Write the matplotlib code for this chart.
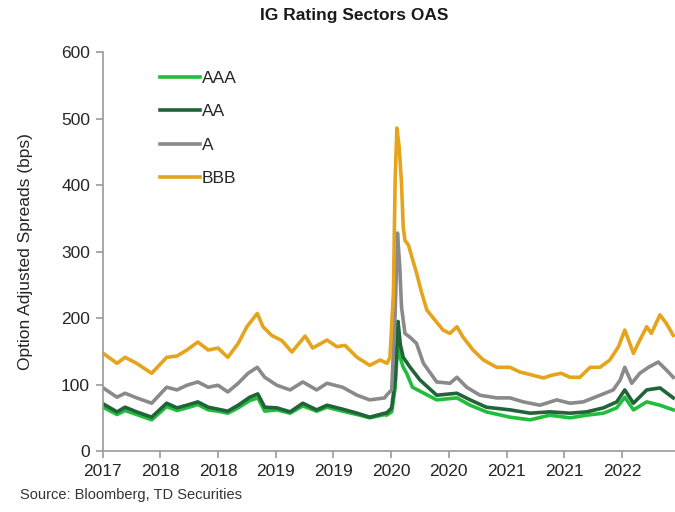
import matplotlib
matplotlib.use("Agg")
import matplotlib.pyplot as plt

plt.rcParams['font.family'] = ['Liberation Sans', 'DejaVu Sans']

# x in half-year tick units (tick 0 = first "2017" label)
tickLabels = ["2017", "2018", "2018", "2019", "2019", "2020", "2020", "2021", "2021", "2022"]

bbbX = [0.01, 0.25, 0.39, 0.59, 0.85, 1.11, 1.29, 1.46, 1.65, 1.83, 2.00, 2.17, 2.35, 2.50, 2.68,
        2.78, 2.93, 3.11, 3.28, 3.51, 3.64, 3.89, 4.06, 4.20, 4.41, 4.63, 4.81, 4.93, 4.98, 5.04,
        5.07, 5.10, 5.14, 5.18, 5.21, 5.24, 5.30, 5.36, 5.44, 5.53, 5.62, 5.76, 5.90, 6.02, 6.14,
        6.25, 6.42, 6.60, 6.83, 7.06, 7.23, 7.46, 7.64, 7.78, 7.95, 8.10, 8.27, 8.45, 8.62, 8.79,
        8.94, 9.05, 9.20, 9.31, 9.43, 9.51, 9.66, 9.77, 9.89]
bbbY = [147, 132, 141, 132, 117, 141, 143, 152, 164, 152, 155, 141, 162, 187, 207,
        187, 174, 166, 149, 173, 155, 167, 157, 159, 141, 129, 137, 132, 141, 238,
        408, 486, 457, 403, 337, 317, 310, 292, 268, 238, 212, 197, 182, 177, 187,
        171, 152, 137, 126, 126, 119, 114, 110, 114, 117, 111, 111, 126, 126, 137,
        157, 182, 147, 167, 187, 177, 205, 192, 174]

aX = [0.01, 0.25, 0.39, 0.59, 0.85, 1.11, 1.29, 1.46, 1.65, 1.83, 2.00, 2.17, 2.35, 2.52, 2.68,
      2.81, 3.02, 3.25, 3.47, 3.71, 3.89, 4.16, 4.41, 4.63, 4.89, 4.92, 5.01, 5.07, 5.11, 5.15,
      5.18, 5.24, 5.33, 5.44, 5.56, 5.79, 6.02, 6.14, 6.31, 6.54, 6.83, 7.06, 7.29, 7.58, 7.87,
      8.10, 8.33, 8.62, 8.85, 8.97, 9.05, 9.17, 9.31, 9.46, 9.63, 9.77, 9.89]
aY = [95, 81, 87, 80, 72, 96, 92, 99, 104, 96, 99, 89, 102, 117, 126,
      111, 99, 92, 104, 92, 102, 96, 84, 77, 80, 84, 92, 207, 328, 277,
      217, 177, 171, 162, 132, 104, 102, 111, 96, 84, 80, 80, 74, 69, 77,
      72, 74, 84, 92, 107, 126, 102, 117, 126, 134, 122, 111]

aaX = [0.01, 0.25, 0.39, 0.59, 0.85, 1.11, 1.29, 1.46, 1.65, 1.83, 2.00, 2.17, 2.35, 2.55, 2.69,
       2.81, 3.02, 3.25, 3.47, 3.71, 3.89, 4.16, 4.41, 4.63, 4.89, 4.92, 5.01, 5.07, 5.12, 5.16,
       5.21, 5.33, 5.50, 5.79, 6.14, 6.37, 6.65, 7.06, 7.41, 7.75, 8.10, 8.39, 8.68, 8.91, 9.05,
       9.20, 9.43, 9.66, 9.89]
aaY = [71, 59, 66, 59, 51, 72, 65, 69, 74, 66, 63, 60, 69, 81, 86,
       66, 65, 59, 72, 62, 69, 63, 57, 51, 57, 57, 65, 107, 195, 160,
       141, 126, 107, 84, 87, 77, 66, 62, 57, 59, 57, 59, 65, 74, 92,
       72, 92, 95, 80]

aaaX = [0.01, 0.25, 0.39, 0.59, 0.85, 1.11, 1.29, 1.46, 1.65, 1.83, 2.00, 2.17, 2.35, 2.55, 2.69,
        2.81, 3.02, 3.25, 3.47, 3.71, 3.89, 4.16, 4.41, 4.63, 4.89, 4.92, 5.01, 5.07, 5.12, 5.16,
        5.21, 5.27, 5.37, 5.79, 6.14, 6.37, 6.65, 7.06, 7.41, 7.75, 8.10, 8.39, 8.68, 8.91, 9.05,
        9.20, 9.43, 9.66, 9.89]
aaaY = [66, 55, 61, 55, 47, 67, 61, 65, 70, 62, 60, 57, 65, 76, 80,
        60, 62, 57, 68, 60, 66, 60, 55, 50, 55, 54, 59, 95, 171, 140,
        126, 117, 96, 77, 80, 69, 59, 51, 47, 54, 50, 54, 57, 65, 81,
        62, 74, 69, 62]

fig = plt.figure(figsize=(6.75, 5.12), dpi=100)
ax = fig.add_axes([0.152, 0.119, 0.848, 0.779])

ax.plot(aaaX, aaaY, color="#21bd3c", linewidth=2.6, label="AAA")
ax.plot(aaX, aaY, color="#22643a", linewidth=2.6, label="AA")
ax.plot(aX, aY, color="#8a8a8a", linewidth=2.6, label="A")
ax.plot(bbbX, bbbY, color="#e5a41c", linewidth=2.6, label="BBB")

ax.set_xlim(0, 9.92)
ax.set_ylim(0, 600)
ax.set_xticks(range(len(tickLabels)))
ax.set_xticklabels(tickLabels)
ax.set_yticks(range(0, 601, 100))

for side in ["top", "right"]:
    ax.spines[side].set_visible(False)
for side in ["left", "bottom"]:
    ax.spines[side].set_color("#9a9a9a")
    ax.spines[side].set_linewidth(1.2)
ax.tick_params(axis="both", direction="out", length=5, color="#9a9a9a", width=1.2,
               labelsize=12.5, labelcolor="#262626", pad=4)

ax.set_ylabel("Option Adjusted Spreads (bps)", fontsize=12.5, color="#262626", labelpad=20)
fig.suptitle("IG Rating Sectors OAS", x=0.525, y=0.985, fontsize=12.5, fontweight="bold", color="#1a1a1a")

leg = ax.legend(loc="upper left", bbox_to_anchor=(0.085, 0.975), frameon=False, fontsize=12.5,
                handlelength=2.3, handletextpad=0.1, labelspacing=1.05, borderpad=0)
for text in leg.get_texts():
    text.set_color("#262626")

fig.text(0.03, 0.025, "Source: Bloomberg, TD Securities", fontsize=10.5, color="#333333")

fig.savefig("out.png", dpi=100)
